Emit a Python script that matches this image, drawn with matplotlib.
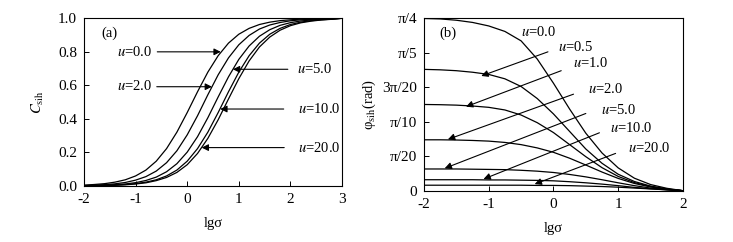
import numpy as np
import matplotlib
matplotlib.use('Agg')
from matplotlib import pyplot as plt

plt.rcParams['font.family'] = ['Liberation Serif', 'DejaVu Serif']
plt.rcParams['mathtext.fontset'] = 'stix'
plt.rcParams['axes.unicode_minus'] = False

# ---------------- data ---------------- #
# panel (a): C_sih vs lg(sigma)
lgs_a = [-2.0, -1.8, -1.6, -1.4, -1.2, -1.0, -0.8, -0.6, -0.4, -0.2, 0.0, 0.2, 0.4,
         0.6, 0.8, 1.0, 1.2, 1.4, 1.6, 1.8, 2.0, 2.2, 2.4, 2.6, 2.8, 3.0]
c_u0 = [0.005, 0.009, 0.014, 0.023, 0.037, 0.060, 0.095, 0.148, 0.223, 0.321, 0.438, 0.562, 0.679,
        0.777, 0.852, 0.905, 0.940, 0.963, 0.977, 0.986, 0.991, 0.995, 0.997, 0.998, 0.999, 1.0]
c_u2 = [0.003, 0.005, 0.008, 0.013, 0.021, 0.035, 0.056, 0.089, 0.139, 0.210, 0.305, 0.419, 0.544,
        0.663, 0.764, 0.842, 0.898, 0.936, 0.960, 0.975, 0.985, 0.991, 0.994, 0.997, 0.998, 1.0]
c_u5 = [0.002, 0.003, 0.005, 0.008, 0.012, 0.020, 0.033, 0.053, 0.085, 0.133, 0.202, 0.294, 0.407,
        0.531, 0.651, 0.755, 0.835, 0.893, 0.932, 0.958, 0.974, 0.984, 0.990, 0.994, 0.996, 1.0]
c_u10 = [0.001, 0.002, 0.003, 0.005, 0.009, 0.014, 0.023, 0.037, 0.060, 0.095, 0.148, 0.223, 0.321,
         0.438, 0.562, 0.679, 0.777, 0.852, 0.905, 0.940, 0.963, 0.977, 0.986, 0.991, 0.995, 1.0]
c_u20 = [0.001, 0.002, 0.003, 0.004, 0.007, 0.012, 0.019, 0.032, 0.051, 0.081, 0.127, 0.194, 0.284,
         0.395, 0.519, 0.640, 0.746, 0.829, 0.888, 0.929, 0.956, 0.973, 0.983, 0.990, 0.994, 1.0]
curves_a = [c_u0, c_u2, c_u5, c_u10, c_u20]

# panel (b): phi_sih (rad) vs lg(sigma)
lgs_b = [-2.0, -1.75, -1.5, -1.25, -1.0, -0.75, -0.5, -0.25, 0.0, 0.25, 0.5, 0.75, 1.0,
         1.25, 1.5, 1.75, 2.0]
p_u0 = [0.785, 0.783, 0.777, 0.767, 0.751, 0.726, 0.683, 0.600, 0.490, 0.372, 0.262, 0.172, 0.104,
        0.057, 0.028, 0.011, 0.0]
p_u05 = [0.553, 0.551, 0.547, 0.540, 0.530, 0.510, 0.475, 0.420, 0.350, 0.270, 0.190, 0.125, 0.075,
         0.042, 0.021, 0.008, 0.0]
p_u1 = [0.393, 0.392, 0.390, 0.386, 0.380, 0.368, 0.345, 0.310, 0.265, 0.210, 0.155, 0.105, 0.065,
        0.037, 0.019, 0.007, 0.0]
p_u2 = [0.232, 0.232, 0.231, 0.229, 0.226, 0.220, 0.210, 0.195, 0.175, 0.148, 0.117, 0.085, 0.056,
        0.033, 0.017, 0.006, 0.0]
p_u5 = [0.099, 0.099, 0.099, 0.098, 0.097, 0.096, 0.093, 0.089, 0.083, 0.074, 0.063, 0.050, 0.036,
        0.023, 0.012, 0.005, 0.0]
p_u10 = [0.050, 0.050, 0.050, 0.050, 0.049, 0.049, 0.048, 0.047, 0.045, 0.041, 0.036, 0.030, 0.023,
         0.015, 0.009, 0.004, 0.0]
p_u20 = [0.025, 0.025, 0.025, 0.025, 0.025, 0.025, 0.025, 0.024, 0.024, 0.023, 0.021, 0.019, 0.016,
         0.012, 0.008, 0.004, 0.0]
curves_b = [p_u0, p_u05, p_u1, p_u2, p_u5, p_u10, p_u20]

# annotations: (text, text x, text y, arrow tail x, tail y, tip x, tip y)
notes_a = [
    ('0.0', -1.37, 0.80, -0.58, 0.80, 0.65, 0.80),
    ('2.0', -1.37, 0.595, -0.59, 0.592, 0.48, 0.592),
    ('5.0', 2.13, 0.695, 1.95, 0.696, 0.885, 0.696),
    ('10.0', 2.15, 0.459, 1.87, 0.459, 0.64, 0.459),
    ('20.0', 2.15, 0.229, 1.88, 0.229, 0.28, 0.229),
]
notes_b = [
    ('0.0', -0.50, 0.725, None, None, None, None),
    ('0.5', 0.07, 0.656, -0.085, 0.633, -1.115, 0.523),
    ('1.0', 0.30, 0.580, 0.12, 0.547, -1.35, 0.383),
    ('2.0', 0.53, 0.462, 0.31, 0.440, -1.63, 0.234),
    ('5.0', 0.74, 0.368, 0.50, 0.352, -1.68, 0.102),
    ('10.0', 0.88, 0.284, 0.71, 0.264, -1.08, 0.053),
    ('20.0', 1.15, 0.193, 0.96, 0.170, -0.29, 0.030),
]

pi_ticks = [0, np.pi / 20, np.pi / 10, 3 * np.pi / 20, np.pi / 5, np.pi / 4]
pi_labels = ['0', 'π/20', 'π/10', '3π/20', 'π/5', 'π/4']

FS = 10.5
TFS = 11


def style_axes(ax):
    ax.tick_params(direction='in', length=3.5, width=0.7, labelsize=TFS, pad=5,
                   top=False, right=False)
    for s in ax.spines.values():
        s.set_linewidth(0.8)


def draw_note(ax, txt, tx, ty, x0, y0, x1, y1):
    ax.text(tx, ty, '$u$=' + txt, fontsize=FS, va='center', ha='left')
    if x0 is not None:
        ax.annotate('', xy=(x1, y1), xytext=(x0, y0),
                    arrowprops=dict(arrowstyle='-|>', color='black', lw=0.8,
                                    mutation_scale=10, shrinkA=0, shrinkB=0))


fig = plt.figure(figsize=(7.33, 2.42), dpi=100)
ax1 = fig.add_axes([0.1146, 0.2314, 0.352, 0.693])
ax2 = fig.add_axes([0.5784, 0.212, 0.3533, 0.712])

# --- (a)
for c in curves_a:
    ax1.plot(lgs_a, c, color='black', lw=0.9)
ax1.set_xlim(-2, 3)
ax1.set_ylim(0, 1)
ax1.set_xticks([-2, -1, 0, 1, 2, 3])
ax1.set_yticks([0, 0.2, 0.4, 0.6, 0.8, 1.0])
ax1.set_yticklabels(['0.0', '0.2', '0.4', '0.6', '0.8', '1.0'])
style_axes(ax1)
ax1.set_xlabel('lgσ', fontsize=FS, labelpad=8)
ax1.set_ylabel('$C_{\\mathrm{sih}}$', fontsize=FS, labelpad=9)
ax1.text(-1.66, 0.91, '(a)', fontsize=FS, va='center')
for n in notes_a:
    draw_note(ax1, *n)

# --- (b)
for p in curves_b:
    ax2.plot(lgs_b, p, color='black', lw=0.9)
ax2.set_xlim(-2, 2)
ax2.set_ylim(0, np.pi / 4)
ax2.set_xticks([-2, -1, 0, 1, 2])
ax2.set_yticks(pi_ticks)
ax2.set_yticklabels(pi_labels)
style_axes(ax2)
ax2.set_xlabel('lgσ', fontsize=FS, labelpad=8)
ax2.set_ylabel('φ$_{\\mathrm{sih}}$(rad)', fontsize=FS, labelpad=3)
ax2.text(-1.76, 0.717, '(b)', fontsize=FS, va='center')
for n in notes_b:
    draw_note(ax2, *n)

fig.savefig('out.png', dpi=100)
